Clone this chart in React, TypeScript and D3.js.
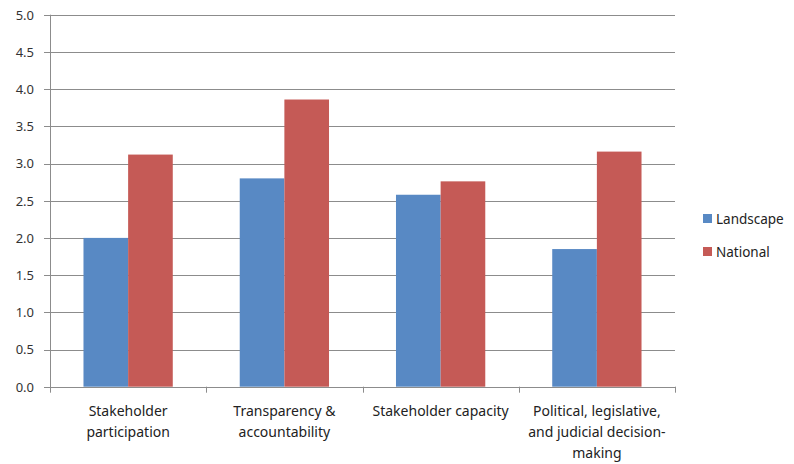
import React from "react";
import * as d3 from "d3";

const categories = [
  ["Stakeholder", "participation"],
  ["Transparency &", "accountability"],
  ["Stakeholder capacity"],
  ["Political, legislative,", "and judicial decision-", "making"],
];
const landscape = [2.0, 2.8, 2.58, 1.85];
const national = [3.12, 3.86, 2.76, 3.16];
const seriesNames = ["Landscape", "National"];
const colors = ["#5889C4", "#C55A56"];
const yTicks = [0, 0.5, 1, 1.5, 2, 2.5, 3, 3.5, 4, 4.5, 5];

export default function App() {
  const W = 794, H = 464;
  const left = 50, right = 675, top = 14.7, bottom = 386.7;
  const x = d3.scaleBand<number>().domain(d3.range(categories.length)).range([left, right]).paddingInner(0).paddingOuter(0);
  const y = d3.scaleLinear().domain([0, 5]).range([bottom, top]);
  const bw = x.bandwidth() / 3.5;
  const series = [landscape, national];
  const font = "Noto Sans, sans-serif";
  return (
    <svg width={W} height={H} style={{ position: "absolute", left: 0, top: 0 }}>
      <rect width={W} height={H} fill="#fff" />
      {yTicks.map((t) => (
        <g key={t}>
          <line x1={left - 6} x2={right} y1={Math.round(y(t)) + 0.5} y2={Math.round(y(t)) + 0.5} stroke="#8C8C8C" strokeWidth={1} />
          <text x={34} y={y(t) + 4.8} textAnchor="end" fontSize={13} fontFamily={font} fill="#333">{t.toFixed(1)}</text>
        </g>
      ))}
      {series.map((vals, si) =>
        vals.map((v, i) => (
          <rect key={si + "-" + i} x={(x(i) as number) + bw * 0.75 + si * bw} y={y(v)} width={bw} height={bottom - y(v)} fill={colors[si]} />
        ))
      )}
      <line x1={left + 0.5} x2={left + 0.5} y1={top} y2={bottom + 5} stroke="#8C8C8C" />
      <line x1={left} x2={right} y1={Math.round(bottom) + 0.5} y2={Math.round(bottom) + 0.5} stroke="#8C8C8C" />
      {d3.range(categories.length + 1).map((i) => {
        const xx = Math.round(left + i * x.bandwidth()) + 0.5;
        return <line key={i} x1={xx} x2={xx} y1={bottom} y2={bottom + 6} stroke="#8C8C8C" />;
      })}
      {categories.map((lines, i) => (
        <text key={i} textAnchor="middle" fontSize={14} fontFamily={font} fill="#222">
          {lines.map((l, j) => (
            <tspan key={j} x={(x(i) as number) + x.bandwidth() / 2} y={416 + j * 21}>{l}</tspan>
          ))}
        </text>
      ))}
      {seriesNames.map((n, i) => (
        <g key={n}>
          <rect x={703} y={214 + i * 33} width={9} height={9} fill={colors[i]} />
          <text x={716} y={223.5 + i * 33} fontSize={13.5} fontFamily={font} fill="#222">{n}</text>
        </g>
      ))}
    </svg>
  );
}
